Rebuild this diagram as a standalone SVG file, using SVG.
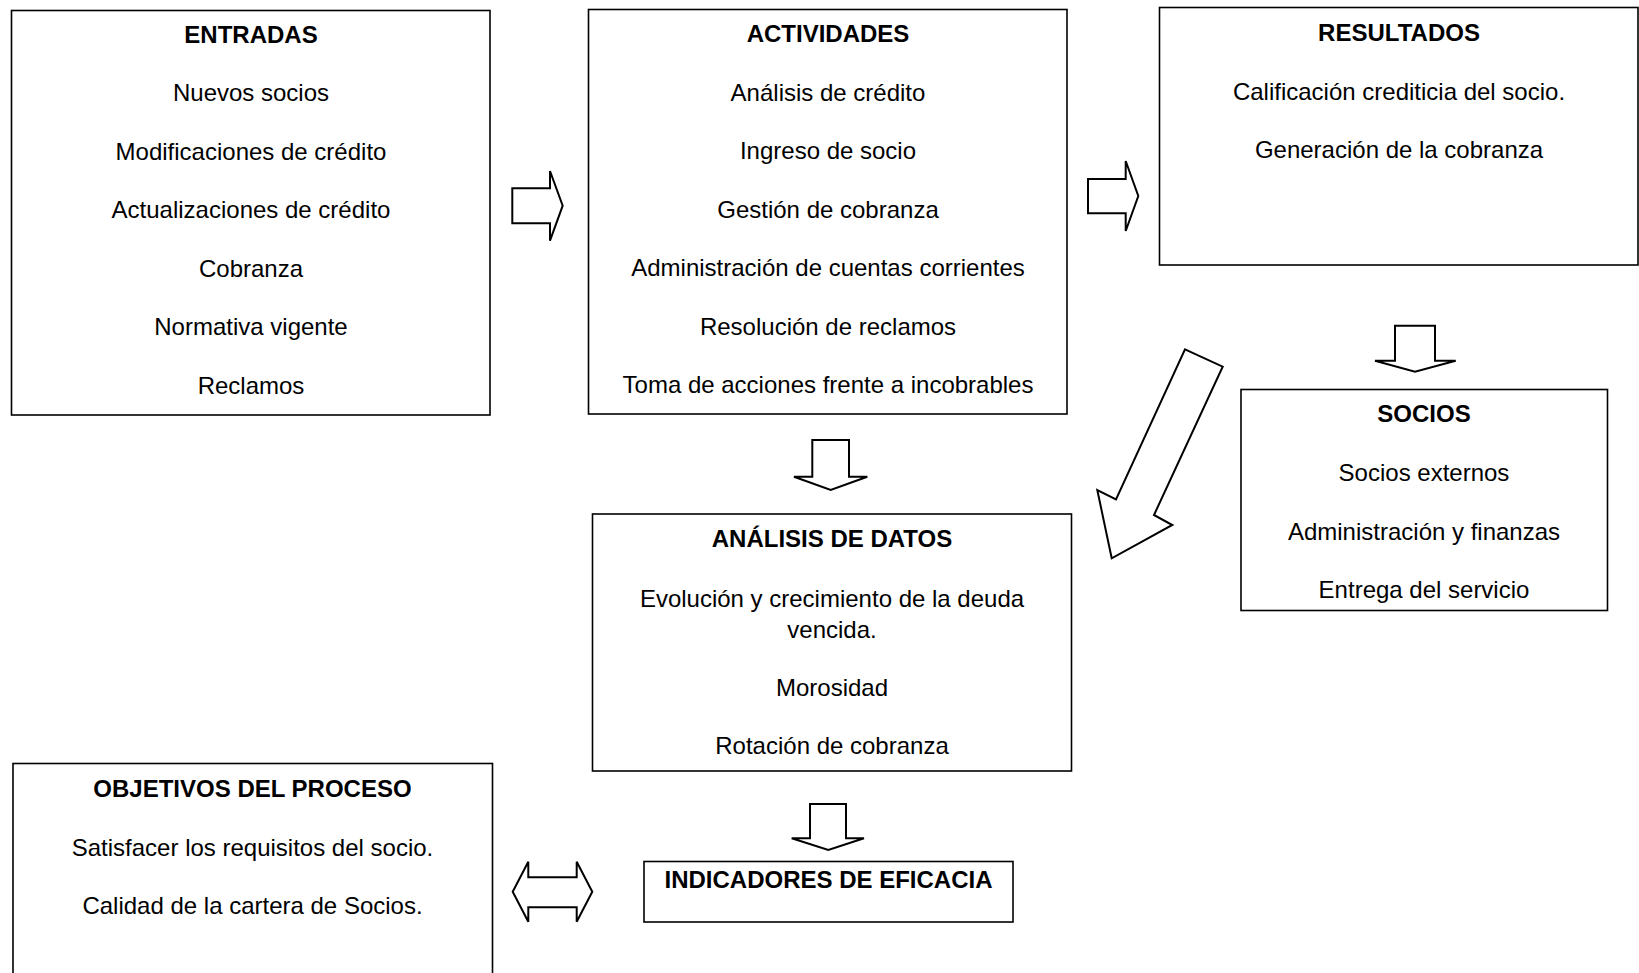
<svg xmlns="http://www.w3.org/2000/svg" width="1639" height="973" viewBox="0 0 1639 973">
<style>
.box{fill:#fff;stroke:#000;stroke-width:1.6}
.arr{fill:#fff;stroke:#000;stroke-width:2;stroke-linejoin:miter}
text{font-family:"Liberation Sans",Arial,sans-serif;font-size:24px;fill:#000;text-anchor:middle}
.t{font-weight:bold}
</style>
<rect width="1639" height="973" fill="#fff"/>
<g id="entradas">
<rect class="box" x="11.5" y="10.5" width="478.5" height="404.5"/>
<text class="t" x="251" y="43">ENTRADAS</text>
<text x="251" y="101">Nuevos socios</text>
<text x="251" y="159.5">Modificaciones de crédito</text>
<text x="251" y="218">Actualizaciones de crédito</text>
<text x="251" y="276.5">Cobranza</text>
<text x="251" y="335">Normativa vigente</text>
<text x="251" y="393.5">Reclamos</text>
</g>
<g id="actividades">
<rect class="box" x="588.5" y="9.5" width="478.5" height="404.5"/>
<text class="t" x="828" y="42">ACTIVIDADES</text>
<text x="828" y="100.5">Análisis de crédito</text>
<text x="828" y="159">Ingreso de socio</text>
<text x="828" y="217.5">Gestión de cobranza</text>
<text x="828" y="276">Administración de cuentas corrientes</text>
<text x="828" y="334.5">Resolución de reclamos</text>
<text x="828" y="393">Toma de acciones frente a incobrables</text>
</g>
<g id="resultados">
<rect class="box" x="1159.5" y="7.5" width="478.5" height="257.5"/>
<text class="t" x="1399" y="41">RESULTADOS</text>
<text x="1399" y="100">Calificación crediticia del socio.</text>
<text x="1399" y="158">Generación de la cobranza</text>
</g>
<g id="socios">
<rect class="box" x="1241" y="389.5" width="366.5" height="221"/>
<text class="t" x="1424" y="422">SOCIOS</text>
<text x="1424" y="481">Socios externos</text>
<text x="1424" y="539.5">Administración y finanzas</text>
<text x="1424" y="597.5">Entrega del servicio</text>
</g>
<g id="analisis">
<rect class="box" x="592.5" y="514" width="479" height="257"/>
<text class="t" x="832" y="547">ANÁLISIS DE DATOS</text>
<text x="832" y="607">Evolución y crecimiento de la deuda</text>
<text x="832" y="637.5">vencida.</text>
<text x="832" y="695.5">Morosidad</text>
<text x="832" y="754">Rotación de cobranza</text>
</g>
<g id="objetivos">
<rect class="box" x="13" y="763.5" width="479.5" height="230"/>
<text class="t" x="252.5" y="797">OBJETIVOS DEL PROCESO</text>
<text x="252.5" y="856">Satisfacer los requisitos del socio.</text>
<text x="252.5" y="914">Calidad de la cartera de Socios.</text>
</g>
<g id="indicadores">
<rect class="box" x="644" y="861.5" width="369" height="60.5"/>
<text class="t" x="828.5" y="888">INDICADORES DE EFICACIA</text>
</g>
<g id="connectors">
<polygon class="arr" points="512.3,188.3 550,188.3 550,171 562.7,205.7 550,240.7 550,223.3 512.3,223.3"/>
<polygon class="arr" points="1088,179 1125.7,179 1125.7,161 1138.3,196 1125.7,231 1125.7,213.3 1088,213.3"/>
<polygon class="arr" points="1395,325.7 1435,325.7 1435,360.7 1455.7,360.7 1415,371.7 1375,360.7 1395,360.7"/>
<polygon class="arr" points="812.3,440 849,440 849,476.7 867.3,476.7 830.7,490 794,476.7 812.3,476.7"/>
<polygon class="arr" points="810,804 846,804 846,838.3 864,838.3 828.3,850 791.7,838.3 810,838.3"/>
<polygon class="arr" points="512.7,891.7 528.3,861.7 528.3,877.3 576.7,877.3 576.7,861.7 592.3,891.7 576.7,921.7 576.7,907.3 528.3,907.3 528.3,921.7"/>
<polygon class="arr" points="1185,349.3 1222.7,366.7 1154,515 1172.3,525 1111.7,558.3 1097.3,490 1116,499.3"/>
</g>
</svg>
